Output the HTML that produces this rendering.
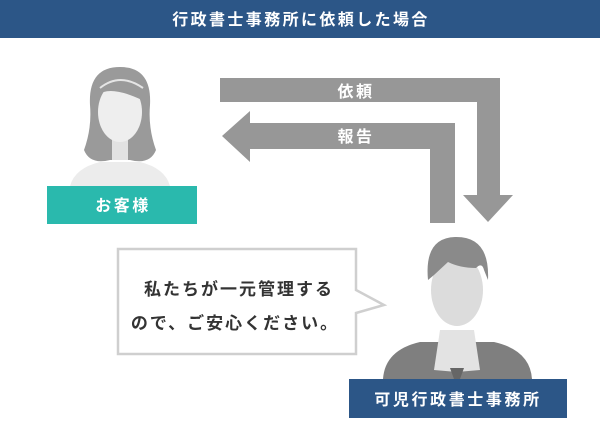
<!DOCTYPE html>
<html><head><meta charset="utf-8"><style>
body{margin:0;width:600px;height:447px;background:#fff;overflow:hidden;font-family:"Liberation Sans","Noto Sans CJK JP",sans-serif;}
text{font-family:"Liberation Sans","Noto Sans CJK JP",sans-serif;font-weight:bold;}
</style></head><body>
<svg width="600" height="447" viewBox="0 0 600 447" xmlns="http://www.w3.org/2000/svg" style="display:block">
<rect x="0" y="0" width="600" height="38" fill="#2c5687"/>
<text x="301" y="25" fill="#fff" font-size="16" letter-spacing="2.4" text-anchor="middle">行政書士事務所に依頼した場合</text>
<!-- arrows -->
<polygon points="220,78 500,78 500,195 513,195 488,222 463,195 477,195 477,102 220,102" fill="#979797"/>
<polygon points="455,123 455,223 430,223 430,149 250,149 250,162 222,136 250,111 250,123" fill="#979797"/>
<text x="356" y="97" fill="#fff" font-size="16" letter-spacing="2.5" text-anchor="middle">依頼</text>
<text x="356" y="142" fill="#fff" font-size="16" letter-spacing="2.5" text-anchor="middle">報告</text>
<!-- woman -->
<path d="M70,186 Q75,168 100,162 L140,162 Q165,168 170,186 Z" fill="#ececec"/>
<path d="M120,67 Q88,67 90,105 Q92,128 84,150 Q90,165 110,160 L130,160 Q150,165 156,150 Q148,128 150,105 Q152,67 120,67 Z" fill="#9a9a9a"/>
<rect x="112" y="130" width="16" height="30" fill="#e2e2e2"/>
<ellipse cx="120" cy="112" rx="22" ry="30" fill="#eeeeee"/>
<path d="M98,95 Q110,85 142,100 Q140,80 120,78 Q100,80 98,95 Z" fill="#9a9a9a"/>
<path d="M100,88 Q120,72 143,88" stroke="#e5e5e5" stroke-width="2" fill="none"/>
<rect x="47" y="186" width="150" height="38" fill="#2ab9ad"/>
<text x="123" y="211" fill="#fff" font-size="16" letter-spacing="2.5" text-anchor="middle">お客様</text>
<!-- man -->
<path d="M383,379 Q385,350 420,342 L494,342 Q530,350 532,379 Z" fill="#7f7f7f"/>
<path d="M440,330 L474,330 L480,370 L457,372 L434,370 Z" fill="#e3e3e3"/>
<path d="M450,368 L464,368 L460,379 L454,379 Z" fill="#666"/>
<ellipse cx="457" cy="290" rx="26" ry="36" fill="#dcdcdc"/>
<path d="M428,280 Q424,238 455,237 Q490,236 488,280 L484,270 Q482,262 476,268 Q460,268 448,262 L434,275 Z" fill="#8a8a8a"/>
<rect x="349" y="379" width="218" height="39" fill="#2c5687"/>
<text x="458" y="405" fill="#fff" font-size="16" letter-spacing="2.6" text-anchor="middle">可児行政書士事務所</text>
<!-- bubble -->
<path d="M118,249 L356,249 L356,290 L384,305 L356,313 L356,354 L118,354 Z" fill="#fff" stroke="#cfcfcf" stroke-width="2.5"/>
<text x="239" y="295" fill="#333" font-size="17" letter-spacing="2" text-anchor="middle">私たちが一元管理する</text>
<text x="235" y="329" fill="#333" font-size="17" letter-spacing="2" text-anchor="middle">ので、ご安心ください。</text>
</svg>
</body></html>
